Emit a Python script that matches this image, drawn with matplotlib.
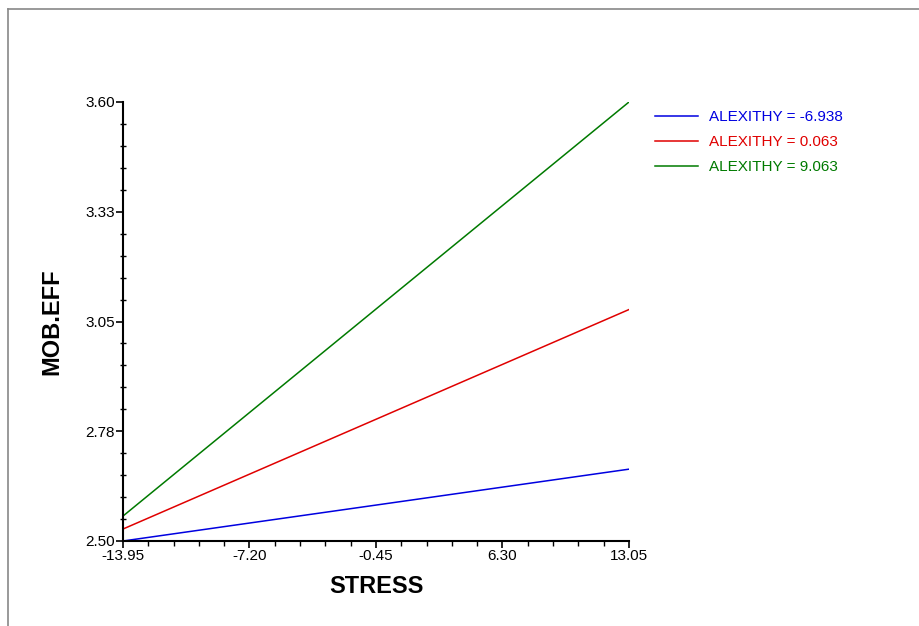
import numpy as np
import matplotlib.pyplot as plt
from matplotlib.lines import Line2D
from matplotlib.ticker import FixedLocator

plt.rcParams['font.family'] = ['Liberation Sans', 'DejaVu Sans']

# simple slopes of STRESS on MOB.EFF at three ALEXITHY levels
stress = [-13.95, 13.05]
alexithy = [-6.938, 0.063, 9.063]
mob_eff = [
    [2.50, 2.68],
    [2.53, 3.08],
    [2.5625, 3.60],
]
colors = ['#0000e0', '#e00000', '#007a00']

x_ticks = [-13.95, -7.20, -0.45, 6.30, 13.05]
y_ticks = [2.50, 2.775, 3.05, 3.325, 3.60]
y_tick_labels = ['2.50', '2.78', '3.05', '3.33', '3.60']

fig = plt.figure(figsize=(9.2, 6.26), dpi=100)
ax = fig.add_axes([123 / 920, 1 - 541 / 626, (629 - 123) / 920, (541 - 102) / 626])

for a, ys, c in zip(alexithy, mob_eff, colors):
    ax.plot(stress, ys, color=c, lw=1.1, label='ALEXITHY = %.3f' % a)

ax.set_xlim(stress[0], stress[1])
ax.set_ylim(y_ticks[0], y_ticks[-1])
ax.set_xticks(x_ticks)
ax.set_xticklabels(['%.2f' % v for v in x_ticks])
ax.set_yticks(y_ticks)
ax.set_yticklabels(y_tick_labels)
ax.xaxis.set_minor_locator(FixedLocator(np.linspace(x_ticks[0], x_ticks[-1], 21)))
ax.yaxis.set_minor_locator(FixedLocator(np.linspace(y_ticks[0], y_ticks[-1], 21)))

for s in ['top', 'right']:
    ax.spines[s].set_visible(False)
for s in ['left', 'bottom']:
    ax.spines[s].set_linewidth(1.5)
    ax.spines[s].set_color('black')

ax.tick_params(which='major', direction='out', length=5, width=1.2, labelsize=11, pad=1)
ax.tick_params(which='minor', direction='out', length=3.5, width=1.0)
ax.tick_params(axis='y', which='minor', direction='inout', length=4)

ax.set_xlabel('STRESS', fontsize=17, fontweight='bold')
ax.set_ylabel('MOB.EFF', fontsize=17, fontweight='bold')
ax.xaxis.set_label_coords(0.5, -0.077)
ax.yaxis.set_label_coords(-0.117, 0.5)

leg = ax.legend(loc='upper left', bbox_to_anchor=(655 / 920, 1 - 110 / 626),
                bbox_transform=fig.transFigure, frameon=False, fontsize=11,
                handlelength=2.8, handletextpad=0.75, labelspacing=0.72,
                labelcolor='linecolor', borderaxespad=0, borderpad=0)

# thin grey frame along the top and left edges
fig.add_artist(Line2D([8 / 920, 1], [1 - 9 / 626, 1 - 9 / 626], color='#888888', lw=1.2))
fig.add_artist(Line2D([8 / 920, 8 / 920], [0, 1 - 9 / 626], color='#888888', lw=1.2))

fig.savefig('out.png', dpi=100)
